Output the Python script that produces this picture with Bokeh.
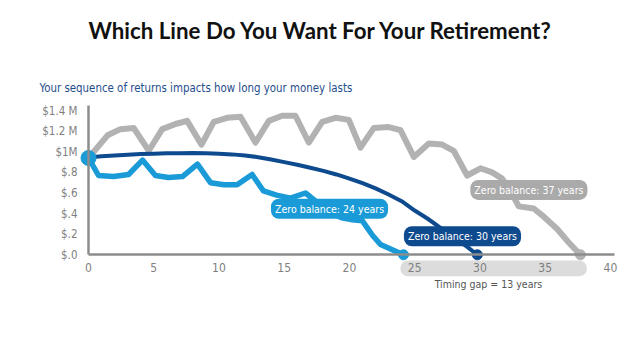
from bokeh.plotting import figure
from bokeh.models import Range1d, FixedTicker, Label, BoxAnnotation
from bokeh.embed import file_html
from bokeh.resources import INLINE

# ---------------- data ----------------
gray_years = [0.00, 1.46, 2.45, 3.47, 4.62, 5.65, 6.67, 7.56, 8.66, 9.60, 10.63, 11.65,
              12.80, 13.82, 14.84, 15.86, 16.88, 17.91, 18.93, 19.95, 20.84, 21.86,
              23.01, 23.91, 24.93, 26.08, 27.10, 27.99, 29.02, 30.04, 30.93, 31.70,
              32.34, 32.97, 34.12, 34.89, 35.92, 36.80, 37.70]
gray_vals = [0.94, 1.16, 1.22, 1.23, 1.01, 1.22, 1.27, 1.30, 1.07, 1.29, 1.33, 1.34,
             1.09, 1.30, 1.35, 1.35, 1.09, 1.29, 1.33, 1.31, 1.04, 1.23,
             1.24, 1.21, 0.95, 1.08, 1.07, 1.01, 0.77, 0.84, 0.80, 0.74,
             0.62, 0.47, 0.45, 0.37, 0.25, 0.12, 0.00]

light_years = [0.00, 0.77, 1.92, 3.07, 4.14, 5.13, 6.13, 7.20, 8.35, 9.35, 10.37, 11.39,
               12.54, 13.41, 14.41, 15.48, 16.63, 17.62, 18.54, 19.39, 20.23, 20.99,
               21.76, 22.38, 24.14]
light_vals = [0.94, 0.77, 0.76, 0.78, 0.92, 0.77, 0.75, 0.76, 0.88, 0.70, 0.68, 0.68,
              0.78, 0.62, 0.58, 0.55, 0.60, 0.50, 0.41, 0.36, 0.34, 0.33,
              0.19, 0.10, 0.00]

dark_years = [0, 1, 2, 3, 4, 5, 6, 7, 8, 9, 10, 11, 12, 13, 14, 15, 16, 17, 18, 19,
              20, 21, 22, 23, 24, 25, 26, 27, 28, 29, 29.8]
dark_vals = [0.945, 0.956, 0.965, 0.972, 0.978, 0.982, 0.985, 0.987, 0.988, 0.986,
             0.982, 0.975, 0.965, 0.948, 0.925, 0.900, 0.875, 0.845, 0.815, 0.780,
             0.740, 0.695, 0.645, 0.585, 0.520, 0.430, 0.350, 0.260, 0.170, 0.080, 0.0]

start_point = (0.0, 0.94)
end_years = [24.14, 29.8, 37.7]

x_ticks = [0, 5, 10, 15, 20, 25, 30, 35, 40]
y_ticks = [0, 0.2, 0.4, 0.6, 0.8, 1.0, 1.2, 1.4]
y_tick_labels = ["$.0", "$.2", "$.4", "$.6", "$.8", "$1M", "$1.2 M", "$1.4 M"]

title_text = "Which Line Do You Want For Your Retirement?"
subtitle_text = "Your sequence of returns impacts how long your money lasts"
bubble_texts = ["Zero balance: 24 years", "Zero balance: 30 years", "Zero balance: 37 years"]
bubble_x = [18.47, 28.66, 33.75]
bubble_y = [0.447, 0.18, 0.63]
gap_left, gap_right = 23.9, 38.2
gap_text = "Timing gap = 13 years"
gap_text_x = 30.65

# ---------------- style ----------------
LIGHT = "#1a9bd7"
DARK = "#0e4a8e"
GRAY = "#b2b2b2"
GRAY_LABEL = "#aaaaaa"
AXIS = "#8c8c8c"
TICK = "#7f7f7f"
NARROW = "DejaVu Sans Condensed"

p = figure(width=640, height=360,
           x_range=Range1d(-4.444, 40.77), y_range=Range1d(-0.366, 2.469),
           output_backend="svg", toolbar_location=None, title=None,
           min_border_left=30, min_border_right=20,
           min_border_top=0, min_border_bottom=68)
p.outline_line_color = None
p.grid.visible = False
p.background_fill_color = "white"
p.border_fill_color = "white"

xa, ya = p.xaxis[0], p.yaxis[0]
for ax in (xa, ya):
    ax.fixed_location = 0
    ax.axis_line_color = AXIS
    ax.axis_line_width = 2.5
    ax.major_tick_line_color = None
    ax.minor_tick_line_color = None
    ax.major_tick_out = 0
    ax.major_tick_in = 0
    ax.major_label_text_font = NARROW
    ax.major_label_text_color = TICK

xa.ticker = FixedTicker(ticks=x_ticks)
xa.bounds = (0, 40.3)
xa.major_label_standoff = 8
xa.major_label_text_font_size = "12px"
ya.ticker = FixedTicker(ticks=y_ticks)
ya.bounds = (0, 1.45)
ya.major_label_overrides = {t: s for t, s in zip(y_ticks, y_tick_labels)}
ya.major_label_standoff = 11
ya.major_label_text_font_size = "11.5px"

# timing-gap band (under the axis labels)
band = BoxAnnotation(left=gap_left, right=gap_right, bottom=-0.208, top=-0.056,
                     fill_color="#dcdcdc", fill_alpha=1.0, line_color=None,
                     border_radius=9, level="underlay")
p.add_layout(band)

# series
p.line(gray_years, gray_vals, line_color=GRAY, line_width=6, line_join="round")
p.line(dark_years, dark_vals, line_color=DARK, line_width=4, line_join="round")
p.line(light_years, light_vals, line_color=LIGHT, line_width=5.5, line_join="round")

p.scatter([end_years[2]], [0], size=10, color=GRAY)
p.scatter([end_years[1]], [0], size=10, color=DARK)
p.scatter([end_years[0]], [0], size=10, color=LIGHT)
p.scatter([start_point[0]], [start_point[1]], size=15, color=LIGHT)

for txt, bx, by, col in zip(bubble_texts, bubble_x, bubble_y, [LIGHT, DARK, GRAY_LABEL]):
    p.add_layout(Label(x=bx, y=by, text=txt, text_align="center", text_baseline="middle",
                       text_font=NARROW, text_font_size="10.5px", text_color="white",
                       background_fill_color=col, background_fill_alpha=1.0,
                       border_radius=8, padding=4))

p.add_layout(Label(x=gap_text_x, y=-0.288, text=gap_text, text_align="center",
                   text_baseline="middle", text_font=NARROW, text_font_size="10.5px",
                   text_color="#555555"))

# title and subtitle
p.add_layout(Label(x=0, y=2.178, text=title_text, text_align="left", text_baseline="middle",
                   text_font="Lato", text_font_size="22.3px", text_font_style="bold",
                   text_color="#111111"))
p.add_layout(Label(x=-3.755, y=1.624, text=subtitle_text, text_align="left",
                   text_baseline="middle", text_font=NARROW, text_font_size="11.4px",
                   text_color="#1f4e8c"))

open("out.html", "w").write(file_html(p, INLINE))
